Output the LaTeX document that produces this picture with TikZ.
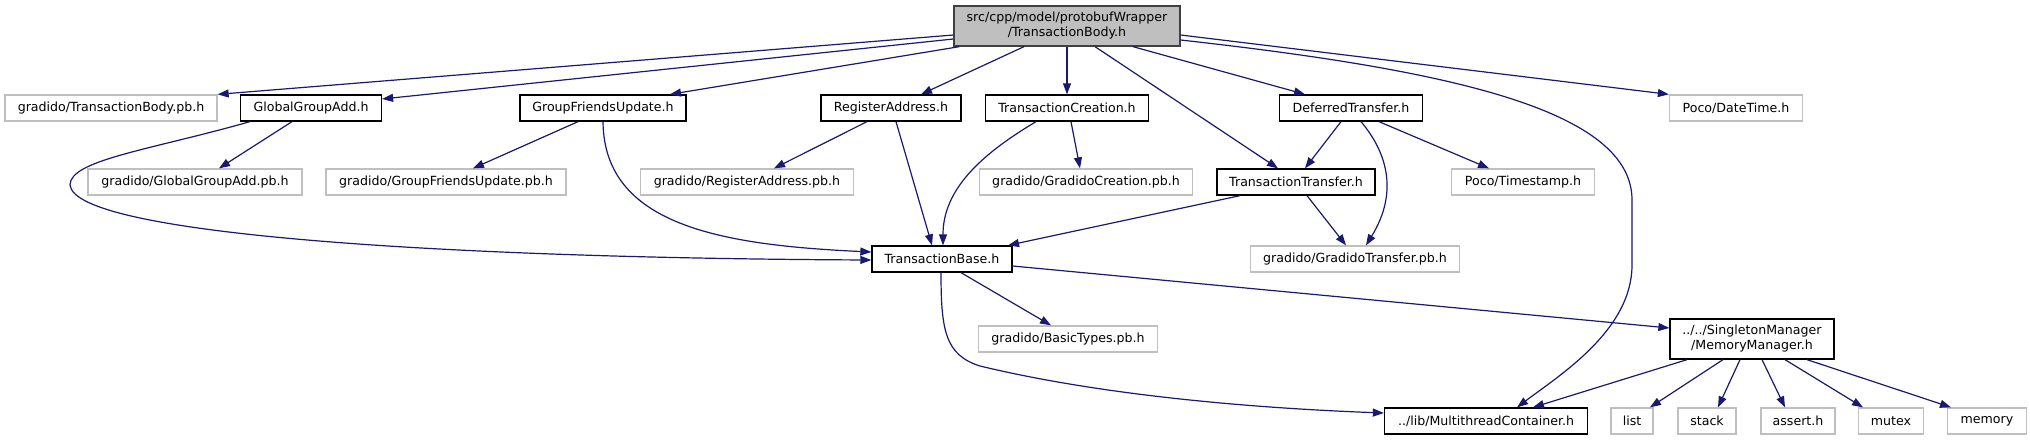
\documentclass[tikz,border=0pt]{standalone}
\usepackage{fontspec}
\setmainfont{DejaVu Sans}
\usetikzlibrary{arrows.meta}
\definecolor{edgeblue}{HTML}{191970}
\definecolor{boxgrey}{HTML}{BFBFBF}
\definecolor{rootgrey}{HTML}{404040}

\begin{document}
\begin{tikzpicture}[x=1pt, y=-1pt,
    every node/.style={font=\fontsize{12.6}{15}\selectfont, inner sep=0pt, minimum height=26pt, align=center},
    filebox/.style={draw=black, line width=1.3pt, fill=white},
    sysbox/.style={draw=boxgrey, line width=1.3pt, fill=white},
    rootbox/.style={draw=rootgrey, line width=1.3pt, fill=boxgrey, minimum height=40pt},
    dep/.style={draw=edgeblue, line width=1.2pt, -{Triangle[length=11pt,width=8pt]}}]
    \useasboundingbox (0,0) rectangle (2030,440);

    \node[rootbox, minimum width=226pt] (body) at (1067,26) {src/cpp/model/protobufWrapper\\/TransactionBody.h};

    \node[sysbox, minimum width=212pt] (bodypb) at (111,108) {gradido/TransactionBody.pb.h};
    \node[filebox, minimum width=141pt] (globaladd) at (311,108) {GlobalGroupAdd.h};
    \node[filebox, minimum width=166pt] (friendsupd) at (603,108) {GroupFriendsUpdate.h};
    \node[filebox, minimum width=140pt] (regaddr) at (891,108) {RegisterAddress.h};
    \node[filebox, minimum width=163pt] (creation) at (1067,108) {TransactionCreation.h};
    \node[filebox, minimum width=143pt] (deferred) at (1351,108) {DeferredTransfer.h};
    \node[sysbox, minimum width=133pt] (datetime) at (1736,108) {Poco/DateTime.h};

    \node[sysbox, minimum width=214pt] (globaladdpb) at (195,182) {gradido/GlobalGroupAdd.pb.h};
    \node[sysbox, minimum width=240pt] (friendsupdpb) at (446,182) {gradido/GroupFriendsUpdate.pb.h};
    \node[sysbox, minimum width=213pt] (regaddrpb) at (747,182) {gradido/RegisterAddress.pb.h};
    \node[sysbox, minimum width=213pt] (creationpb) at (1086,182) {gradido/GradidoCreation.pb.h};
    \node[filebox, minimum width=158pt] (transfer) at (1296,182) {TransactionTransfer.h};
    \node[sysbox, minimum width=143pt] (timestamp) at (1523,182) {Poco/Timestamp.h};

    \node[filebox, minimum width=140pt] (base) at (942,259) {TransactionBase.h};
    \node[sysbox, minimum width=209pt] (transferpb) at (1355,259) {gradido/GradidoTransfer.pb.h};

    \node[sysbox, minimum width=179pt] (basictypes) at (1068,339) {gradido/BasicTypes.pb.h};
    \node[filebox, minimum width=164pt, minimum height=40pt] (memmgr) at (1752,339) {../../SingletonManager\\/MemoryManager.h};

    \node[filebox, minimum width=203pt] (mtcontainer) at (1486,421) {../lib/MultithreadContainer.h};
    \node[sysbox, minimum width=42pt] (stdlist) at (1632,421) {list};
    \node[sysbox, minimum width=58pt] (stdstack) at (1707,421) {stack};
    \node[sysbox, minimum width=74pt] (stdassert) at (1798,421) {assert.h};
    \node[sysbox, minimum width=65pt] (stdmutex) at (1891,421) {mutex};
    \node[sysbox, minimum width=79pt] (stdmemory) at (1987,421) {memory};

    \draw[dep] ([yshift=-9pt]body.west) -- (bodypb.north east);
    \draw[dep] ([yshift=-13pt]body.west) -- ([yshift=9pt]globaladd.east);
    \draw[dep] ([xshift=6pt]body.south west) -- ([xshift=67pt]friendsupd.north);
    \draw[dep] ([xshift=-43pt]body.south) -- ([xshift=30pt]regaddr.north);
    \draw[dep] (body.south) -- (creation.north);
    \draw[dep] ([xshift=28pt]body.south) -- ([xshift=-18pt]transfer.north);
    \draw[dep] ([xshift=66pt]body.south) -- ([xshift=-46pt]deferred.north);
    \draw[dep] ([yshift=-9pt]body.east) -- (datetime.north west);
    \draw[dep] ([yshift=-14pt]body.east) .. controls (1450,70) and (1632,110) .. (1632,200)
        -- (1632,265) .. controls (1632,330) and (1560,375) .. ([xshift=31pt]mtcontainer.north);

    \draw[dep] ([xshift=-19pt]globaladd.south) -- ([xshift=24pt]globaladdpb.north);
    \draw[dep] ([xshift=-61pt]globaladd.south) .. controls (150,150) and (70,160) .. (70,185)
        .. controls (75,235) and (450,258) .. ([yshift=-1pt]base.west);
    \draw[dep] ([xshift=-25pt]friendsupd.south) -- ([xshift=27pt]friendsupdpb.north);
    \draw[dep] (friendsupd.south) .. controls (604,225) and (720,245) .. ([yshift=7pt]base.west);
    \draw[dep] ([xshift=-24pt]regaddr.south) -- ([xshift=27pt]regaddrpb.north);
    \draw[dep] ([xshift=5pt]regaddr.south) -- ([xshift=-10pt]base.north);
    \draw[dep] ([xshift=4pt]creation.south) -- ([xshift=-6pt]creationpb.north);
    \draw[dep] ([xshift=-31pt]creation.south) .. controls (980,155) and (943,190) .. ([xshift=1pt]base.north);
    \draw[dep] ([xshift=-10pt]deferred.south) -- ([xshift=9pt]transfer.north);
    \draw[dep] ([xshift=10pt]deferred.south) .. controls (1385,150) and (1400,190) .. ([xshift=11pt]transferpb.north);
    \draw[dep] ([xshift=28pt]deferred.south) -- ([xshift=-34pt]timestamp.north);

    \draw[dep] ([xshift=-56pt]transfer.south) -- ([xshift=66pt]base.north);
    \draw[dep] ([xshift=11pt]transfer.south) -- ([xshift=-9pt]transferpb.north);

    \draw[dep] ([xshift=19pt]base.south) -- ([xshift=-17pt]basictypes.north);
    \draw[dep] ([yshift=-7pt]base.east) -- ([yshift=11pt]memmgr.west);
    \draw[dep] ([xshift=-1pt]base.south) .. controls (941,330) and (945,355) .. (980,366)
        .. controls (1100,395) and (1250,408) .. ([yshift=8pt]mtcontainer.west);

    \draw[dep] ([xshift=-65pt]memmgr.south) -- ([xshift=47pt]mtcontainer.north);
    \draw[dep] ([xshift=-29pt]memmgr.south) -- ([xshift=18pt]stdlist.north);
    \draw[dep] ([xshift=-12pt]memmgr.south) -- ([xshift=11pt]stdstack.north);
    \draw[dep] ([xshift=10pt]memmgr.south) -- ([xshift=-13pt]stdassert.north);
    \draw[dep] ([xshift=33pt]memmgr.south) -- ([xshift=-28pt]stdmutex.north);
    \draw[dep] ([xshift=55pt]memmgr.south) -- ([xshift=-36pt]stdmemory.north);
\end{tikzpicture}
\end{document}
